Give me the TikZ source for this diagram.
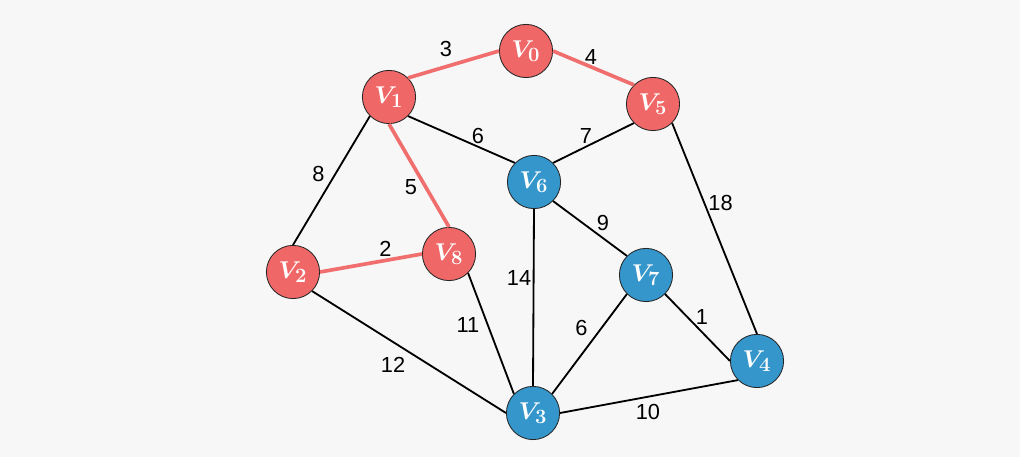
\documentclass[tikz,border=0pt]{standalone}
\usepackage[no-math]{fontspec}
\usepackage{amsmath}
\newfontfamily\lblfont{Liberation Sans}
\definecolor{bggray}{RGB}{247,247,247}
\definecolor{nodered}{RGB}{240,103,103}
\definecolor{edgered}{RGB}{240,110,110}
\definecolor{nodeblue}{RGB}{52,150,203}

\begin{document}
\begin{tikzpicture}[x=0.025cm, y=-0.025cm,
		vtx/.style={circle, draw=black!85, line width=0.6pt, minimum size=1.33cm, inner sep=0pt, text=white, font=\fontsize{19}{22}\selectfont},
		vred/.style={vtx, fill=nodered},
		vblue/.style={vtx, fill=nodeblue},
		edge/.style={line width=1.3pt},
		redge/.style={line width=2.6pt, draw=edgered},
		lbl/.style={font=\lblfont\fontsize{15.5}{18}\selectfont, inner sep=0pt}]
		\fill[bggray] (0,0) rectangle (1020,457);
		\useasboundingbox (0,0) rectangle (1020,457);
		
		% vertices
		\node[vred] (v0) at (526,51) {$\boldsymbol{V_0}$};
		\node[vred] (v1) at (389,97) {$\boldsymbol{V_1}$};
		\node[vred] (v5) at (653,104) {$\boldsymbol{V_5}$};
		\node[vred] (v2) at (293,272) {$\boldsymbol{V_2}$};
		\node[vred] (v8) at (449,254) {$\boldsymbol{V_8}$};
		\node[vblue] (v6) at (534,182) {$\boldsymbol{V_6}$};
		\node[vblue] (v7) at (646,275) {$\boldsymbol{V_7}$};
		\node[vblue] (v4) at (757,361) {$\boldsymbol{V_4}$};
		\node[vblue] (v3) at (533,413) {$\boldsymbol{V_3}$};
		
		% red edges
		\draw[redge] (v1.north east) -- node[lbl, shift={(-7.6,-15)}] (e10) {3} (v0.west);
		\draw[redge] (v0.east) -- node[lbl, shift={(-2.5,-10.5)}] (e05) {4} (v5.north west);
		\draw[redge] (v1.south) -- node[lbl, shift={(-8,12)}] (e18) {5} (v8.north);
		\draw[redge] (v2.east) -- node[lbl, shift={(14.5,-14)}] (e28) {2} (v8.west);
		
		% black edges
		\draw[edge] (v1.south east) -- node[lbl, shift={(16.5,-3.5)}] (e16) {6} (v6.north west);
		\draw[edge] (v5.south west) -- node[lbl, shift={(-7.5,-7)}] (e56) {7} (v6.north east);
		\draw[edge] (v1.south west) -- node[lbl, shift={(-13,-6.6)}] (e12) {8} (v2.north);
		\draw[edge] (v5.south east) -- node[lbl, shift={(6,-26)}] (e54) {18} (v4.north);
		\draw[edge] (v6.south east) -- node[lbl, shift={(13,-5.5)}] (e67) {9} (v7.north west);
		\draw[edge] (v6.south) -- node[lbl, shift={(-14.5,-19.5)}] (e63) {14} (v3.north);
		\draw[edge] (v8.south east) -- node[lbl, shift={(-23,-8.5)}] (e83) {11} (v3.north west);
		\draw[edge] (v7.south west) -- node[lbl, shift={(-8,-16)}] (e73) {6} (v3.north east);
		\draw[edge] (v7.south east) -- node[lbl, shift={(4.5,-10.5)}] (e74) {1} (v4.west);
		\draw[edge] (v2.south east) -- node[lbl, shift={(-16,13)}] (e23) {12} (v3.west);
		\draw[edge] (v3.east) -- node[lbl, shift={(-1,15.5)}] (e34) {10} (v4.south west);
	\end{tikzpicture}
\end{document}
